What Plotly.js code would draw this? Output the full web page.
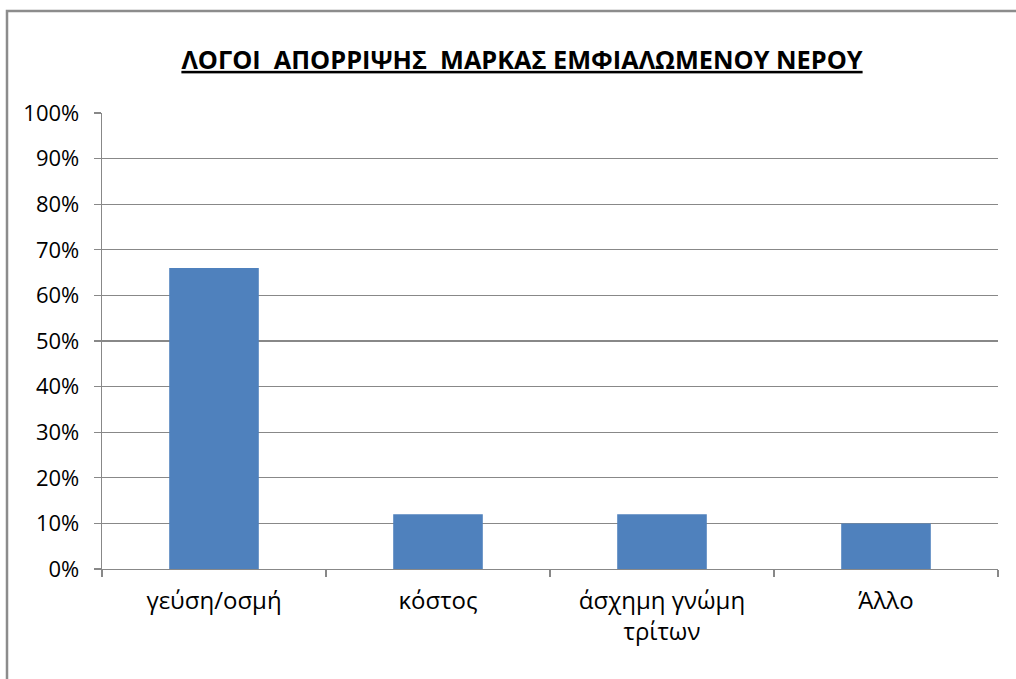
<!DOCTYPE html>
<html>
<head>
<meta charset="utf-8">
<script src="https://cdn.plot.ly/plotly-3.0.1.min.js"></script>
<style>html,body{margin:0;padding:0;background:#fff;}#chart{width:1016px;height:679px;}</style>
</head>
<body>
<div id="chart"></div>
<script>
const categories = ['γεύση/οσμή', 'κόστος', 'άσχημη γνώμη<br>τρίτων', 'Άλλο'];
const values = [0.66, 0.12, 0.12, 0.10];
const yTickVals = [0, 0.1, 0.2, 0.3, 0.4, 0.5, 0.6, 0.7, 0.8, 0.9, 1.0];
const yTickText = ['0%', '10%', '20%', '30%', '40%', '50%', '60%', '70%', '80%', '90%', '100%'];
const titleText = 'ΛΟΓΟΙ  ΑΠΟΡΡΙΨΗΣ  ΜΑΡΚΑΣ ΕΜΦΙΑΛΩΜΕΝΟΥ ΝΕΡΟΥ';

const W = 1016, H = 679;
const gridColor = '#888888';
const fontFam = '"Open Sans", "Noto Sans", sans-serif';

const trace = {
  type: 'bar',
  x: categories,
  y: values,
  marker: {color: '#4F81BD'},
  hoverinfo: 'x+y'
};

const layout = {
  width: W, height: H,
  margin: {l: 102, r: 18, t: 113, b: 110},
  paper_bgcolor: '#ffffff',
  plot_bgcolor: '#ffffff',
  showlegend: false,
  bargap: 0.6,
  font: {family: fontFam, size: 22, color: '#000000'},
  title: {
    text: titleText,
    font: {family: fontFam, size: 25.3, color: '#000000', weight: 700, lineposition: 'under'},
    x: 522 / W, xanchor: 'center', xref: 'container',
    y: 1 - 60 / H, yanchor: 'middle', yref: 'container'
  },
  xaxis: {
    type: 'category',
    showline: true, linecolor: gridColor, linewidth: 1.3,
    ticks: 'outside', tickson: 'boundaries', ticklen: 7, tickcolor: gridColor, tickwidth: 1.3,
    showgrid: false, zeroline: false,
    tickfont: {family: fontFam, size: 24, color: '#000000'},
    ticklabelstandoff: 10,
    fixedrange: true
  },
  yaxis: {
    range: [0, 1],
    tickvals: yTickVals, ticktext: yTickText,
    showline: true, linecolor: gridColor, linewidth: 1.3,
    ticks: 'outside', ticklen: 7, tickcolor: gridColor, tickwidth: 1.3,
    showgrid: true, gridcolor: gridColor, gridwidth: 1.3,
    zeroline: false,
    tickfont: {family: fontFam, size: 22, color: '#000000'},
    ticklabelstandoff: 10,
    fixedrange: true
  },
  shapes: [{
    type: 'rect', xref: 'paper', yref: 'paper',
    x0: (7 - 102) / (W - 120), x1: (1030 - 102) / (W - 120),
    y0: -(130) / (H - 223), y1: 1 + (113 - 11) / (H - 223),
    line: {color: '#8c8c8c', width: 2.5}, fillcolor: 'rgba(0,0,0,0)', layer: 'below'
  }]
};

Plotly.newPlot('chart', [trace], layout, {displayModeBar: false, staticPlot: true});
</script>
</body>
</html>
